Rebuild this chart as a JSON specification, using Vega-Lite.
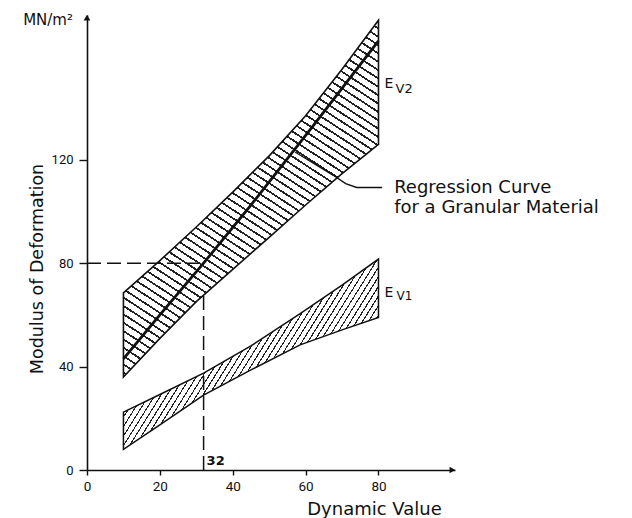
{
  "$schema": "https://vega.github.io/schema/vega-lite/v6.json",
  "autosize": "none",
  "width": 368,
  "height": 455,
  "padding": {"left": 87, "top": 15, "right": 177, "bottom": 48},
  "background": "white",
  "datasets": {
    "ev2": [
      {"x": 10, "lo": 36, "hi": 68.5},
      {"x": 20, "lo": 50.9, "hi": 81},
      {"x": 30, "lo": 65.1, "hi": 94},
      {"x": 40, "lo": 77.6, "hi": 107.5},
      {"x": 50, "lo": 90, "hi": 121.5},
      {"x": 60, "lo": 102.5, "hi": 137},
      {"x": 70, "lo": 114.6, "hi": 155},
      {"x": 80, "lo": 126, "hi": 174}
    ],
    "ev1": [
      {"x": 10, "lo": 8, "hi": 22.4},
      {"x": 20, "lo": 17.5, "hi": 29.2},
      {"x": 32, "lo": 29, "hi": 37.5},
      {"x": 45, "lo": 38.7, "hi": 48},
      {"x": 58.5, "lo": 48.4, "hi": 60.5},
      {"x": 70, "lo": 54.2, "hi": 71.5},
      {"x": 80, "lo": 59, "hi": 81.6}
    ],
    "reg": [
      {"x": 10, "y": 43},
      {"x": 20, "y": 60},
      {"x": 32, "y": 80},
      {"x": 45, "y": 102.5},
      {"x": 62, "y": 133},
      {"x": 80, "y": 166}
    ],
    "leader": [
      {"x": 57.1, "y": 123},
      {"x": 67.6, "y": 114},
      {"x": 71, "y": 110.8},
      {"x": 74, "y": 109.3},
      {"x": 81, "y": 109.3}
    ],
    "guide": [
      {"x": 0, "y": 80, "x2": 30.5, "y2": 80},
      {"x": 32, "y": 0, "x2": 32, "y2": 67.6}
    ]
  },
  "layer": [
    {
      "data": {"name": "ev2"},
      "mark": {
        "type": "area",
        "stroke": "#111",
        "strokeWidth": 1.6,
        "fill": {
          "gradient": "linear",
          "x1": 0, "y1": 1, "x2": 0.559, "y2": -0.2046,
          "stops": [
            {"offset":0,"color":"#fff"},
            {"offset":0.006,"color":"#fff"},{"offset":0.006,"color":"#222"},{"offset":0.01,"color":"#222"},{"offset":0.01,"color":"#fff"},
            {"offset":0.022,"color":"#fff"},{"offset":0.022,"color":"#222"},{"offset":0.026,"color":"#222"},{"offset":0.026,"color":"#fff"},
            {"offset":0.038,"color":"#fff"},{"offset":0.038,"color":"#222"},{"offset":0.042,"color":"#222"},{"offset":0.042,"color":"#fff"},
            {"offset":0.054,"color":"#fff"},{"offset":0.054,"color":"#222"},{"offset":0.058,"color":"#222"},{"offset":0.058,"color":"#fff"},
            {"offset":0.07,"color":"#fff"},{"offset":0.07,"color":"#222"},{"offset":0.074,"color":"#222"},{"offset":0.074,"color":"#fff"},
            {"offset":0.086,"color":"#fff"},{"offset":0.086,"color":"#222"},{"offset":0.09,"color":"#222"},{"offset":0.09,"color":"#fff"},
            {"offset":0.102,"color":"#fff"},{"offset":0.102,"color":"#222"},{"offset":0.106,"color":"#222"},{"offset":0.106,"color":"#fff"},
            {"offset":0.118,"color":"#fff"},{"offset":0.118,"color":"#222"},{"offset":0.122,"color":"#222"},{"offset":0.122,"color":"#fff"},
            {"offset":0.134,"color":"#fff"},{"offset":0.134,"color":"#222"},{"offset":0.138,"color":"#222"},{"offset":0.138,"color":"#fff"},
            {"offset":0.15,"color":"#fff"},{"offset":0.15,"color":"#222"},{"offset":0.154,"color":"#222"},{"offset":0.154,"color":"#fff"},
            {"offset":0.166,"color":"#fff"},{"offset":0.166,"color":"#222"},{"offset":0.17,"color":"#222"},{"offset":0.17,"color":"#fff"},
            {"offset":0.182,"color":"#fff"},{"offset":0.182,"color":"#222"},{"offset":0.186,"color":"#222"},{"offset":0.186,"color":"#fff"},
            {"offset":0.198,"color":"#fff"},{"offset":0.198,"color":"#222"},{"offset":0.202,"color":"#222"},{"offset":0.202,"color":"#fff"},
            {"offset":0.214,"color":"#fff"},{"offset":0.214,"color":"#222"},{"offset":0.218,"color":"#222"},{"offset":0.218,"color":"#fff"},
            {"offset":0.23,"color":"#fff"},{"offset":0.23,"color":"#222"},{"offset":0.234,"color":"#222"},{"offset":0.234,"color":"#fff"},
            {"offset":0.246,"color":"#fff"},{"offset":0.246,"color":"#222"},{"offset":0.25,"color":"#222"},{"offset":0.25,"color":"#fff"},
            {"offset":0.262,"color":"#fff"},{"offset":0.262,"color":"#222"},{"offset":0.266,"color":"#222"},{"offset":0.266,"color":"#fff"},
            {"offset":0.278,"color":"#fff"},{"offset":0.278,"color":"#222"},{"offset":0.282,"color":"#222"},{"offset":0.282,"color":"#fff"},
            {"offset":0.294,"color":"#fff"},{"offset":0.294,"color":"#222"},{"offset":0.298,"color":"#222"},{"offset":0.298,"color":"#fff"},
            {"offset":0.31,"color":"#fff"},{"offset":0.31,"color":"#222"},{"offset":0.314,"color":"#222"},{"offset":0.314,"color":"#fff"},
            {"offset":0.326,"color":"#fff"},{"offset":0.326,"color":"#222"},{"offset":0.33,"color":"#222"},{"offset":0.33,"color":"#fff"},
            {"offset":0.342,"color":"#fff"},{"offset":0.342,"color":"#222"},{"offset":0.346,"color":"#222"},{"offset":0.346,"color":"#fff"},
            {"offset":0.358,"color":"#fff"},{"offset":0.358,"color":"#222"},{"offset":0.362,"color":"#222"},{"offset":0.362,"color":"#fff"},
            {"offset":0.374,"color":"#fff"},{"offset":0.374,"color":"#222"},{"offset":0.378,"color":"#222"},{"offset":0.378,"color":"#fff"},
            {"offset":0.39,"color":"#fff"},{"offset":0.39,"color":"#222"},{"offset":0.394,"color":"#222"},{"offset":0.394,"color":"#fff"},
            {"offset":0.406,"color":"#fff"},{"offset":0.406,"color":"#222"},{"offset":0.41,"color":"#222"},{"offset":0.41,"color":"#fff"},
            {"offset":0.422,"color":"#fff"},{"offset":0.422,"color":"#222"},{"offset":0.426,"color":"#222"},{"offset":0.426,"color":"#fff"},
            {"offset":0.438,"color":"#fff"},{"offset":0.438,"color":"#222"},{"offset":0.442,"color":"#222"},{"offset":0.442,"color":"#fff"},
            {"offset":0.454,"color":"#fff"},{"offset":0.454,"color":"#222"},{"offset":0.458,"color":"#222"},{"offset":0.458,"color":"#fff"},
            {"offset":0.47,"color":"#fff"},{"offset":0.47,"color":"#222"},{"offset":0.474,"color":"#222"},{"offset":0.474,"color":"#fff"},
            {"offset":0.486,"color":"#fff"},{"offset":0.486,"color":"#222"},{"offset":0.49,"color":"#222"},{"offset":0.49,"color":"#fff"},
            {"offset":0.502,"color":"#fff"},{"offset":0.502,"color":"#222"},{"offset":0.506,"color":"#222"},{"offset":0.506,"color":"#fff"},
            {"offset":0.518,"color":"#fff"},{"offset":0.518,"color":"#222"},{"offset":0.522,"color":"#222"},{"offset":0.522,"color":"#fff"},
            {"offset":0.534,"color":"#fff"},{"offset":0.534,"color":"#222"},{"offset":0.538,"color":"#222"},{"offset":0.538,"color":"#fff"},
            {"offset":0.55,"color":"#fff"},{"offset":0.55,"color":"#222"},{"offset":0.554,"color":"#222"},{"offset":0.554,"color":"#fff"},
            {"offset":0.566,"color":"#fff"},{"offset":0.566,"color":"#222"},{"offset":0.57,"color":"#222"},{"offset":0.57,"color":"#fff"},
            {"offset":0.582,"color":"#fff"},{"offset":0.582,"color":"#222"},{"offset":0.586,"color":"#222"},{"offset":0.586,"color":"#fff"},
            {"offset":0.598,"color":"#fff"},{"offset":0.598,"color":"#222"},{"offset":0.602,"color":"#222"},{"offset":0.602,"color":"#fff"},
            {"offset":0.614,"color":"#fff"},{"offset":0.614,"color":"#222"},{"offset":0.618,"color":"#222"},{"offset":0.618,"color":"#fff"},
            {"offset":0.63,"color":"#fff"},{"offset":0.63,"color":"#222"},{"offset":0.634,"color":"#222"},{"offset":0.634,"color":"#fff"},
            {"offset":0.646,"color":"#fff"},{"offset":0.646,"color":"#222"},{"offset":0.65,"color":"#222"},{"offset":0.65,"color":"#fff"},
            {"offset":0.662,"color":"#fff"},{"offset":0.662,"color":"#222"},{"offset":0.666,"color":"#222"},{"offset":0.666,"color":"#fff"},
            {"offset":0.678,"color":"#fff"},{"offset":0.678,"color":"#222"},{"offset":0.682,"color":"#222"},{"offset":0.682,"color":"#fff"},
            {"offset":0.694,"color":"#fff"},{"offset":0.694,"color":"#222"},{"offset":0.698,"color":"#222"},{"offset":0.698,"color":"#fff"},
            {"offset":0.71,"color":"#fff"},{"offset":0.71,"color":"#222"},{"offset":0.714,"color":"#222"},{"offset":0.714,"color":"#fff"},
            {"offset":0.726,"color":"#fff"},{"offset":0.726,"color":"#222"},{"offset":0.73,"color":"#222"},{"offset":0.73,"color":"#fff"},
            {"offset":0.742,"color":"#fff"},{"offset":0.742,"color":"#222"},{"offset":0.746,"color":"#222"},{"offset":0.746,"color":"#fff"},
            {"offset":0.758,"color":"#fff"},{"offset":0.758,"color":"#222"},{"offset":0.762,"color":"#222"},{"offset":0.762,"color":"#fff"},
            {"offset":0.774,"color":"#fff"},{"offset":0.774,"color":"#222"},{"offset":0.778,"color":"#222"},{"offset":0.778,"color":"#fff"},
            {"offset":0.79,"color":"#fff"},{"offset":0.79,"color":"#222"},{"offset":0.794,"color":"#222"},{"offset":0.794,"color":"#fff"},
            {"offset":0.806,"color":"#fff"},{"offset":0.806,"color":"#222"},{"offset":0.81,"color":"#222"},{"offset":0.81,"color":"#fff"},
            {"offset":0.822,"color":"#fff"},{"offset":0.822,"color":"#222"},{"offset":0.826,"color":"#222"},{"offset":0.826,"color":"#fff"},
            {"offset":0.838,"color":"#fff"},{"offset":0.838,"color":"#222"},{"offset":0.842,"color":"#222"},{"offset":0.842,"color":"#fff"},
            {"offset":0.854,"color":"#fff"},{"offset":0.854,"color":"#222"},{"offset":0.858,"color":"#222"},{"offset":0.858,"color":"#fff"},
            {"offset":0.87,"color":"#fff"},{"offset":0.87,"color":"#222"},{"offset":0.874,"color":"#222"},{"offset":0.874,"color":"#fff"},
            {"offset":0.886,"color":"#fff"},{"offset":0.886,"color":"#222"},{"offset":0.89,"color":"#222"},{"offset":0.89,"color":"#fff"},
            {"offset":0.902,"color":"#fff"},{"offset":0.902,"color":"#222"},{"offset":0.906,"color":"#222"},{"offset":0.906,"color":"#fff"},
            {"offset":0.918,"color":"#fff"},{"offset":0.918,"color":"#222"},{"offset":0.922,"color":"#222"},{"offset":0.922,"color":"#fff"},
            {"offset":0.934,"color":"#fff"},{"offset":0.934,"color":"#222"},{"offset":0.938,"color":"#222"},{"offset":0.938,"color":"#fff"},
            {"offset":0.95,"color":"#fff"},{"offset":0.95,"color":"#222"},{"offset":0.954,"color":"#222"},{"offset":0.954,"color":"#fff"},
            {"offset":0.966,"color":"#fff"},{"offset":0.966,"color":"#222"},{"offset":0.97,"color":"#222"},{"offset":0.97,"color":"#fff"},
            {"offset":0.982,"color":"#fff"},{"offset":0.982,"color":"#222"},{"offset":0.986,"color":"#222"},{"offset":0.986,"color":"#fff"},
            {"offset":1,"color":"#fff"}
          ]
        }
      },
      "encoding": {
        "x": {"field": "x", "type": "quantitative", "scale": {"domain": [0, 101], "nice": false}, "axis": {"values": [0, 20, 40, 60, 80], "tickSize": 5, "labelPadding": 4, "labelFontSize": 13.5, "labelFlush": false, "title": "Dynamic Value", "titleFontSize": 18, "titleX": 287, "titleY": 44, "titleAlign": "center", "titleBaseline": "alphabetic"}},
        "y": {"field": "hi", "type": "quantitative", "scale": {"domain": [0, 176], "nice": false}, "axis": {"values": [0, 40, 80, 120], "tickSize": 8, "labelPadding": 6, "labelFontSize": 13, "labelBaseline": "middle", "labelFlush": false, "title": "Modulus of Deformation", "titleFontSize": 17.5, "titleX": -45, "titleY": 253.5, "titleAngle": 270, "titleAlign": "center", "titleBaseline": "alphabetic"}},
        "y2": {"field": "lo"}
      }
    },
    {
      "data": {"name": "ev1"},
      "mark": {
        "type": "area",
        "stroke": "#111",
        "strokeWidth": 1.5,
        "fill": {
          "gradient": "linear",
          "x1": 0, "y1": 0, "x2": 1.2045, "y2": 0.561,
          "stops": [
            {"offset":0,"color":"#fff"},
            {"offset":0.006,"color":"#fff"},{"offset":0.006,"color":"#222"},{"offset":0.0095,"color":"#222"},{"offset":0.0095,"color":"#fff"},
            {"offset":0.022,"color":"#fff"},{"offset":0.022,"color":"#222"},{"offset":0.0255,"color":"#222"},{"offset":0.0255,"color":"#fff"},
            {"offset":0.038,"color":"#fff"},{"offset":0.038,"color":"#222"},{"offset":0.0415,"color":"#222"},{"offset":0.0415,"color":"#fff"},
            {"offset":0.054,"color":"#fff"},{"offset":0.054,"color":"#222"},{"offset":0.0575,"color":"#222"},{"offset":0.0575,"color":"#fff"},
            {"offset":0.07,"color":"#fff"},{"offset":0.07,"color":"#222"},{"offset":0.0735,"color":"#222"},{"offset":0.0735,"color":"#fff"},
            {"offset":0.086,"color":"#fff"},{"offset":0.086,"color":"#222"},{"offset":0.0895,"color":"#222"},{"offset":0.0895,"color":"#fff"},
            {"offset":0.102,"color":"#fff"},{"offset":0.102,"color":"#222"},{"offset":0.1055,"color":"#222"},{"offset":0.1055,"color":"#fff"},
            {"offset":0.118,"color":"#fff"},{"offset":0.118,"color":"#222"},{"offset":0.1215,"color":"#222"},{"offset":0.1215,"color":"#fff"},
            {"offset":0.134,"color":"#fff"},{"offset":0.134,"color":"#222"},{"offset":0.1375,"color":"#222"},{"offset":0.1375,"color":"#fff"},
            {"offset":0.15,"color":"#fff"},{"offset":0.15,"color":"#222"},{"offset":0.1535,"color":"#222"},{"offset":0.1535,"color":"#fff"},
            {"offset":0.166,"color":"#fff"},{"offset":0.166,"color":"#222"},{"offset":0.1695,"color":"#222"},{"offset":0.1695,"color":"#fff"},
            {"offset":0.182,"color":"#fff"},{"offset":0.182,"color":"#222"},{"offset":0.1855,"color":"#222"},{"offset":0.1855,"color":"#fff"},
            {"offset":0.198,"color":"#fff"},{"offset":0.198,"color":"#222"},{"offset":0.2015,"color":"#222"},{"offset":0.2015,"color":"#fff"},
            {"offset":0.214,"color":"#fff"},{"offset":0.214,"color":"#222"},{"offset":0.2175,"color":"#222"},{"offset":0.2175,"color":"#fff"},
            {"offset":0.23,"color":"#fff"},{"offset":0.23,"color":"#222"},{"offset":0.2335,"color":"#222"},{"offset":0.2335,"color":"#fff"},
            {"offset":0.246,"color":"#fff"},{"offset":0.246,"color":"#222"},{"offset":0.2495,"color":"#222"},{"offset":0.2495,"color":"#fff"},
            {"offset":0.262,"color":"#fff"},{"offset":0.262,"color":"#222"},{"offset":0.2655,"color":"#222"},{"offset":0.2655,"color":"#fff"},
            {"offset":0.278,"color":"#fff"},{"offset":0.278,"color":"#222"},{"offset":0.2815,"color":"#222"},{"offset":0.2815,"color":"#fff"},
            {"offset":0.294,"color":"#fff"},{"offset":0.294,"color":"#222"},{"offset":0.2975,"color":"#222"},{"offset":0.2975,"color":"#fff"},
            {"offset":0.31,"color":"#fff"},{"offset":0.31,"color":"#222"},{"offset":0.3135,"color":"#222"},{"offset":0.3135,"color":"#fff"},
            {"offset":0.326,"color":"#fff"},{"offset":0.326,"color":"#222"},{"offset":0.3295,"color":"#222"},{"offset":0.3295,"color":"#fff"},
            {"offset":0.342,"color":"#fff"},{"offset":0.342,"color":"#222"},{"offset":0.3455,"color":"#222"},{"offset":0.3455,"color":"#fff"},
            {"offset":0.358,"color":"#fff"},{"offset":0.358,"color":"#222"},{"offset":0.3615,"color":"#222"},{"offset":0.3615,"color":"#fff"},
            {"offset":0.374,"color":"#fff"},{"offset":0.374,"color":"#222"},{"offset":0.3775,"color":"#222"},{"offset":0.3775,"color":"#fff"},
            {"offset":0.39,"color":"#fff"},{"offset":0.39,"color":"#222"},{"offset":0.3935,"color":"#222"},{"offset":0.3935,"color":"#fff"},
            {"offset":0.406,"color":"#fff"},{"offset":0.406,"color":"#222"},{"offset":0.4095,"color":"#222"},{"offset":0.4095,"color":"#fff"},
            {"offset":0.422,"color":"#fff"},{"offset":0.422,"color":"#222"},{"offset":0.4255,"color":"#222"},{"offset":0.4255,"color":"#fff"},
            {"offset":0.438,"color":"#fff"},{"offset":0.438,"color":"#222"},{"offset":0.4415,"color":"#222"},{"offset":0.4415,"color":"#fff"},
            {"offset":0.454,"color":"#fff"},{"offset":0.454,"color":"#222"},{"offset":0.4575,"color":"#222"},{"offset":0.4575,"color":"#fff"},
            {"offset":0.47,"color":"#fff"},{"offset":0.47,"color":"#222"},{"offset":0.4735,"color":"#222"},{"offset":0.4735,"color":"#fff"},
            {"offset":0.486,"color":"#fff"},{"offset":0.486,"color":"#222"},{"offset":0.4895,"color":"#222"},{"offset":0.4895,"color":"#fff"},
            {"offset":0.502,"color":"#fff"},{"offset":0.502,"color":"#222"},{"offset":0.5055,"color":"#222"},{"offset":0.5055,"color":"#fff"},
            {"offset":0.518,"color":"#fff"},{"offset":0.518,"color":"#222"},{"offset":0.5215,"color":"#222"},{"offset":0.5215,"color":"#fff"},
            {"offset":0.534,"color":"#fff"},{"offset":0.534,"color":"#222"},{"offset":0.5375,"color":"#222"},{"offset":0.5375,"color":"#fff"},
            {"offset":0.55,"color":"#fff"},{"offset":0.55,"color":"#222"},{"offset":0.5535,"color":"#222"},{"offset":0.5535,"color":"#fff"},
            {"offset":0.566,"color":"#fff"},{"offset":0.566,"color":"#222"},{"offset":0.5695,"color":"#222"},{"offset":0.5695,"color":"#fff"},
            {"offset":0.582,"color":"#fff"},{"offset":0.582,"color":"#222"},{"offset":0.5855,"color":"#222"},{"offset":0.5855,"color":"#fff"},
            {"offset":0.598,"color":"#fff"},{"offset":0.598,"color":"#222"},{"offset":0.6015,"color":"#222"},{"offset":0.6015,"color":"#fff"},
            {"offset":0.614,"color":"#fff"},{"offset":0.614,"color":"#222"},{"offset":0.6175,"color":"#222"},{"offset":0.6175,"color":"#fff"},
            {"offset":0.63,"color":"#fff"},{"offset":0.63,"color":"#222"},{"offset":0.6335,"color":"#222"},{"offset":0.6335,"color":"#fff"},
            {"offset":0.646,"color":"#fff"},{"offset":0.646,"color":"#222"},{"offset":0.6495,"color":"#222"},{"offset":0.6495,"color":"#fff"},
            {"offset":0.662,"color":"#fff"},{"offset":0.662,"color":"#222"},{"offset":0.6655,"color":"#222"},{"offset":0.6655,"color":"#fff"},
            {"offset":0.678,"color":"#fff"},{"offset":0.678,"color":"#222"},{"offset":0.6815,"color":"#222"},{"offset":0.6815,"color":"#fff"},
            {"offset":0.694,"color":"#fff"},{"offset":0.694,"color":"#222"},{"offset":0.6975,"color":"#222"},{"offset":0.6975,"color":"#fff"},
            {"offset":0.71,"color":"#fff"},{"offset":0.71,"color":"#222"},{"offset":0.7135,"color":"#222"},{"offset":0.7135,"color":"#fff"},
            {"offset":0.726,"color":"#fff"},{"offset":0.726,"color":"#222"},{"offset":0.7295,"color":"#222"},{"offset":0.7295,"color":"#fff"},
            {"offset":0.742,"color":"#fff"},{"offset":0.742,"color":"#222"},{"offset":0.7455,"color":"#222"},{"offset":0.7455,"color":"#fff"},
            {"offset":0.758,"color":"#fff"},{"offset":0.758,"color":"#222"},{"offset":0.7615,"color":"#222"},{"offset":0.7615,"color":"#fff"},
            {"offset":0.774,"color":"#fff"},{"offset":0.774,"color":"#222"},{"offset":0.7775,"color":"#222"},{"offset":0.7775,"color":"#fff"},
            {"offset":0.79,"color":"#fff"},{"offset":0.79,"color":"#222"},{"offset":0.7935,"color":"#222"},{"offset":0.7935,"color":"#fff"},
            {"offset":0.806,"color":"#fff"},{"offset":0.806,"color":"#222"},{"offset":0.8095,"color":"#222"},{"offset":0.8095,"color":"#fff"},
            {"offset":0.822,"color":"#fff"},{"offset":0.822,"color":"#222"},{"offset":0.8255,"color":"#222"},{"offset":0.8255,"color":"#fff"},
            {"offset":0.838,"color":"#fff"},{"offset":0.838,"color":"#222"},{"offset":0.8415,"color":"#222"},{"offset":0.8415,"color":"#fff"},
            {"offset":0.854,"color":"#fff"},{"offset":0.854,"color":"#222"},{"offset":0.8575,"color":"#222"},{"offset":0.8575,"color":"#fff"},
            {"offset":0.87,"color":"#fff"},{"offset":0.87,"color":"#222"},{"offset":0.8735,"color":"#222"},{"offset":0.8735,"color":"#fff"},
            {"offset":0.886,"color":"#fff"},{"offset":0.886,"color":"#222"},{"offset":0.8895,"color":"#222"},{"offset":0.8895,"color":"#fff"},
            {"offset":0.902,"color":"#fff"},{"offset":0.902,"color":"#222"},{"offset":0.9055,"color":"#222"},{"offset":0.9055,"color":"#fff"},
            {"offset":0.918,"color":"#fff"},{"offset":0.918,"color":"#222"},{"offset":0.9215,"color":"#222"},{"offset":0.9215,"color":"#fff"},
            {"offset":0.934,"color":"#fff"},{"offset":0.934,"color":"#222"},{"offset":0.9375,"color":"#222"},{"offset":0.9375,"color":"#fff"},
            {"offset":0.95,"color":"#fff"},{"offset":0.95,"color":"#222"},{"offset":0.9535,"color":"#222"},{"offset":0.9535,"color":"#fff"},
            {"offset":0.966,"color":"#fff"},{"offset":0.966,"color":"#222"},{"offset":0.9695,"color":"#222"},{"offset":0.9695,"color":"#fff"},
            {"offset":0.982,"color":"#fff"},{"offset":0.982,"color":"#222"},{"offset":0.9855,"color":"#222"},{"offset":0.9855,"color":"#fff"},
            {"offset":1,"color":"#fff"}
          ]
        }
      },
      "encoding": {
        "x": {"field": "x", "type": "quantitative"},
        "y": {"field": "hi", "type": "quantitative"},
        "y2": {"field": "lo"}
      }
    },
    {
      "data": {"name": "reg"},
      "mark": {"type": "line", "color": "#111", "strokeWidth": 2.8},
      "encoding": {
        "x": {"field": "x", "type": "quantitative"},
        "y": {"field": "y", "type": "quantitative"}
      }
    },
    {
      "data": {"name": "guide"},
      "mark": {"type": "rule", "color": "#111", "strokeWidth": 1.5, "strokeDash": [14, 6]},
      "encoding": {
        "x": {"field": "x", "type": "quantitative"},
        "y": {"field": "y", "type": "quantitative"},
        "x2": {"field": "x2"},
        "y2": {"field": "y2"}
      }
    },
    {
      "data": {"name": "leader"},
      "mark": {"type": "line", "color": "#111", "strokeWidth": 1.4},
      "encoding": {
        "x": {"field": "x", "type": "quantitative"},
        "y": {"field": "y", "type": "quantitative"}
      }
    },
    {
      "data": {"values": [{}]},
      "layer": [
        {"mark": {"type": "point", "shape": "triangle-up", "filled": true, "color": "#111", "size": 45, "opacity": 1}, "encoding": {"x": {"datum": 0, "type": "quantitative"}, "y": {"datum": 175, "type": "quantitative"}}},
        {"mark": {"type": "point", "shape": "triangle-right", "filled": true, "color": "#111", "size": 45, "opacity": 1}, "encoding": {"x": {"datum": 100.3, "type": "quantitative"}, "y": {"datum": 0, "type": "quantitative"}}},
        {"mark": {"type": "text", "text": "MN/m²", "font": "DejaVu Sans", "fontSize": 15, "align": "right", "baseline": "alphabetic", "dx": -14, "color": "#111"}, "encoding": {"x": {"datum": 0, "type": "quantitative"}, "y": {"datum": 172.1, "type": "quantitative"}}},
        {"mark": {"type": "text", "text": "E", "font": "DejaVu Sans", "fontSize": 14, "align": "left", "baseline": "alphabetic", "dx": 6, "color": "#111"}, "encoding": {"x": {"datum": 80, "type": "quantitative"}, "y": {"datum": 147.8, "type": "quantitative"}}},
        {"mark": {"type": "text", "text": "V2", "font": "DejaVu Sans", "fontSize": 13, "align": "left", "baseline": "alphabetic", "dx": 17, "color": "#111"}, "encoding": {"x": {"datum": 80, "type": "quantitative"}, "y": {"datum": 145.8, "type": "quantitative"}}},
        {"mark": {"type": "text", "text": "E", "font": "DejaVu Sans", "fontSize": 14, "align": "left", "baseline": "alphabetic", "dx": 6, "color": "#111"}, "encoding": {"x": {"datum": 80, "type": "quantitative"}, "y": {"datum": 66.9, "type": "quantitative"}}},
        {"mark": {"type": "text", "text": "V1", "font": "DejaVu Sans", "fontSize": 12, "align": "left", "baseline": "alphabetic", "dx": 18, "color": "#111"}, "encoding": {"x": {"datum": 80, "type": "quantitative"}, "y": {"datum": 65.8, "type": "quantitative"}}},
        {"mark": {"type": "text", "text": "Regression Curve", "font": "DejaVu Sans", "fontSize": 18, "align": "left", "baseline": "alphabetic", "color": "#111"}, "encoding": {"x": {"datum": 84.3, "type": "quantitative"}, "y": {"datum": 107.3, "type": "quantitative"}}},
        {"mark": {"type": "text", "text": "for a Granular Material", "font": "DejaVu Sans", "fontSize": 18, "align": "left", "baseline": "alphabetic", "color": "#111"}, "encoding": {"x": {"datum": 84.3, "type": "quantitative"}, "y": {"datum": 99.5, "type": "quantitative"}}},
        {"mark": {"type": "text", "text": "32", "font": "DejaVu Sans", "fontSize": 13, "fontWeight": "bold", "align": "left", "baseline": "alphabetic", "dx": 3, "dy": -5, "color": "#111"}, "encoding": {"x": {"datum": 32, "type": "quantitative"}, "y": {"datum": 0, "type": "quantitative"}}}
      ]
    }
  ],
  "config": {
    "view": {"stroke": null},
    "axis": {"grid": false, "domainColor": "#111", "domainWidth": 1.6, "tickColor": "#111", "tickWidth": 1.4, "labelColor": "#111", "titleColor": "#111", "labelFont": "Roboto", "titleFont": "DejaVu Sans", "titleFontWeight": "normal"}
  }
}
